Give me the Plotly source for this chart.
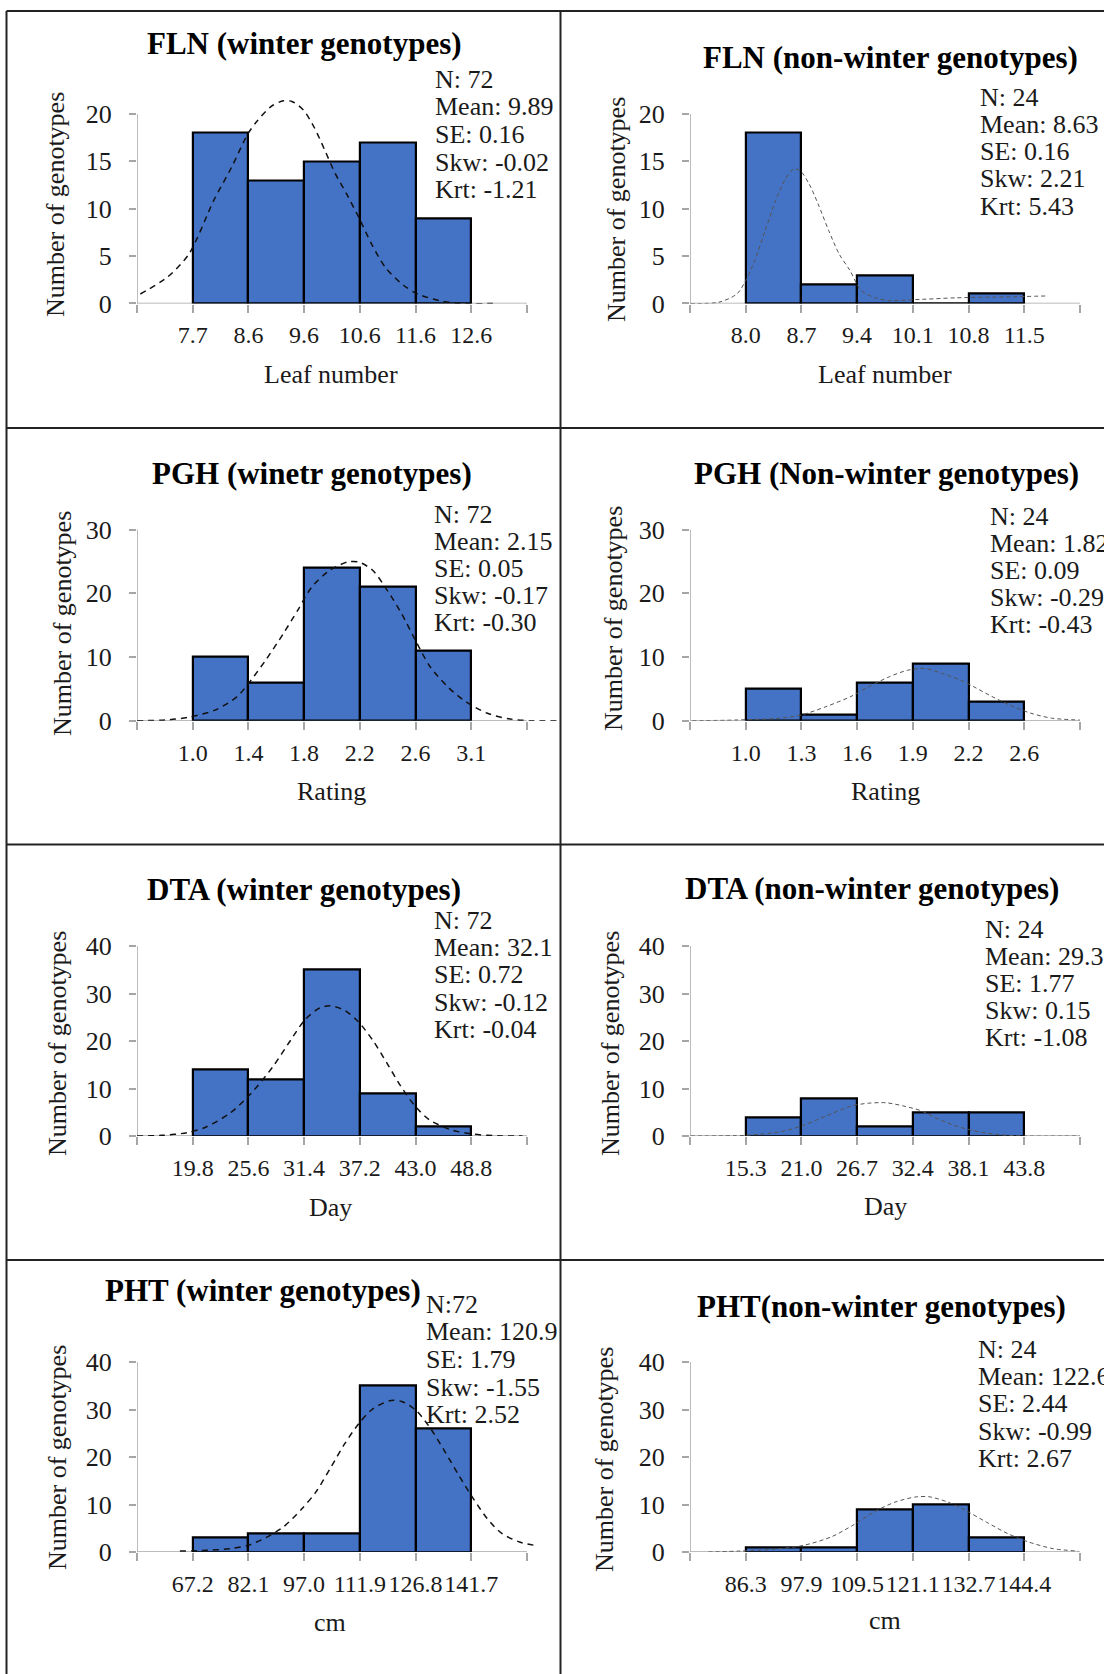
import plotly.graph_objects as go

# ---------------- data ----------------
titles = ["FLN (winter genotypes)", "FLN (non-winter genotypes)",
          "PGH (winetr genotypes)", "PGH (Non-winter genotypes)",
          "DTA (winter genotypes)", "DTA (non-winter genotypes)",
          "PHT (winter genotypes)", "PHT(non-winter genotypes)"]
x_titles = ["Leaf number", "Leaf number", "Rating", "Rating", "Day", "Day", "cm", "cm"]
y_title = "Number of genotypes"

bin_labels_fln_w = ["7.7", "8.6", "9.6", "10.6", "11.6", "12.6"]
bin_labels_fln_nw = ["8.0", "8.7", "9.4", "10.1", "10.8", "11.5"]
bin_labels_pgh_w = ["1.0", "1.4", "1.8", "2.2", "2.6", "3.1"]
bin_labels_pgh_nw = ["1.0", "1.3", "1.6", "1.9", "2.2", "2.6"]
bin_labels_dta_w = ["19.8", "25.6", "31.4", "37.2", "43.0", "48.8"]
bin_labels_dta_nw = ["15.3", "21.0", "26.7", "32.4", "38.1", "43.8"]
bin_labels_pht_w = ["67.2", "82.1", "97.0", "111.9", "126.8", "141.7"]
bin_labels_pht_nw = ["86.3", "97.9", "109.5", "121.1", "132.7", "144.4"]

counts_fln_w = [18, 13, 15, 17, 9]
counts_fln_nw = [18, 2, 3, 0, 1]
counts_pgh_w = [10, 6, 24, 21, 11]
counts_pgh_nw = [5, 1, 6, 9, 3]
counts_dta_w = [14, 12, 35, 9, 2]
counts_dta_nw = [4, 8, 2, 5, 5]
counts_pht_w = [3, 4, 4, 35, 26]
counts_pht_nw = [1, 1, 9, 10, 3]

stats_fln_w = ["N: 72", "Mean: 9.89", "SE: 0.16", "Skw: -0.02", "Krt: -1.21"]
stats_fln_nw = ["N: 24", "Mean: 8.63", "SE: 0.16", "Skw: 2.21", "Krt: 5.43"]
stats_pgh_w = ["N: 72", "Mean: 2.15", "SE: 0.05", "Skw: -0.17", "Krt: -0.30"]
stats_pgh_nw = ["N: 24", "Mean: 1.82", "SE: 0.09", "Skw: -0.29", "Krt: -0.43"]
stats_dta_w = ["N: 72", "Mean: 32.1", "SE: 0.72", "Skw: -0.12", "Krt: -0.04"]
stats_dta_nw = ["N: 24", "Mean: 29.3", "SE: 1.77", "Skw: 0.15", "Krt: -1.08"]
stats_pht_w = ["N:72", "Mean: 120.9", "SE: 1.79", "Skw: -1.55", "Krt: 2.52"]
stats_pht_nw = ["N: 24", "Mean: 122.6", "SE: 2.44", "Skw: -0.99", "Krt: 2.67"]

# fitted normal curves (x in bin-slot units, y in counts)
curve_x_fln_w = [0.06, 0.55, 0.93, 1.38, 1.70, 1.99, 2.15, 2.41, 2.63, 2.79, 2.99, 3.18,
                 3.37, 3.56, 3.76, 3.98, 4.21, 4.46, 4.79, 5.04, 5.43, 5.81, 6.39]
curve_y_fln_w = [1.0, 2.8, 5.2, 10.9, 14.4, 17.9, 19.2, 20.8, 21.4, 21.3, 20.4, 18.6,
                 16.2, 13.7, 11.6, 9.1, 6.3, 3.8, 1.9, 1.0, 0.3, 0.0, 0.0]
curve_x_fln_nw = [0.01, 0.52, 0.84, 1.00, 1.16, 1.35, 1.54, 1.70, 1.86, 1.98, 2.14,
                  2.30, 2.49, 2.68, 2.87, 3.07, 3.32, 3.57, 4.02, 4.78, 5.73, 6.43]
curve_y_fln_nw = [0.0, 0.14, 1.0, 2.4, 4.5, 7.7, 10.9, 13.0, 14.2, 14.0, 12.6,
                  10.5, 7.7, 5.2, 3.5, 1.4, 0.6, 0.3, 0.4, 0.6, 0.7, 0.8]
curve_x_pgh_w = [0.0, 0.51, 0.96, 1.41, 1.80, 2.05, 2.31, 2.63, 2.89, 3.14, 3.46, 3.78,
                 3.98, 4.23, 4.49, 4.75, 5.0, 5.26, 5.58, 5.90, 6.28, 6.67, 7.05, 7.56]
curve_y_pgh_w = [0.0, 0.1, 0.6, 1.7, 3.8, 6.4, 9.5, 13.7, 17.4, 21.0, 23.6, 24.9,
                 24.9, 23.6, 20.5, 16.8, 12.6, 8.5, 5.3, 3.0, 1.2, 0.3, 0.0, 0.0]
curve_x_pgh_nw = [0.04, 0.80, 1.62, 2.0, 2.44, 2.89, 3.20, 3.58, 3.90, 4.22, 4.53,
                  4.85, 5.10, 5.42, 5.73, 6.11, 6.49, 7.0]
curve_y_pgh_nw = [0.0, 0.1, 0.4, 0.9, 2.2, 3.8, 5.3, 6.9, 7.9, 8.2, 7.4,
                  6.4, 5.3, 3.8, 2.5, 1.2, 0.4, 0.1]
curve_x_dta_w = [0.0, 0.45, 0.90, 1.22, 1.67, 2.05, 2.44, 2.76, 3.01, 3.27, 3.46,
                 3.72, 3.97, 4.23, 4.49, 4.74, 5.0, 5.25, 5.64, 6.03, 6.54, 6.92]
curve_y_dta_w = [0.0, 0.14, 0.7, 1.8, 4.8, 9.0, 14.6, 20.2, 24.4, 26.9, 27.4,
                 26.5, 24.1, 20.2, 15.3, 10.4, 6.2, 3.4, 1.3, 0.4, 0.0, 0.0]
curve_x_dta_nw = [0.01, 0.99, 1.62, 2.0, 2.44, 2.89, 3.20, 3.52, 3.84, 4.15, 4.47,
                  4.78, 5.10, 5.48, 5.99, 7.0]
curve_y_dta_nw = [0.0, 0.14, 0.9, 2.1, 4.2, 6.3, 6.9, 7.0, 6.3, 5.3, 3.5,
                  2.1, 1.1, 0.35, 0.0, 0.0]
curve_x_pht_w = [0.77, 1.16, 1.67, 1.99, 2.31, 2.63, 2.96, 3.21, 3.47, 3.73, 3.98, 4.24,
                 4.56, 4.75, 5.01, 5.27, 5.53, 5.78, 6.04, 6.29, 6.55, 6.87, 7.19]
curve_y_pht_w = [0.2, 0.3, 0.7, 1.4, 3.0, 5.3, 9.1, 12.6, 17.6, 22.8, 27.0, 30.2,
                 31.9, 31.7, 29.8, 26.0, 21.1, 16.1, 11.2, 7.0, 3.9, 2.1, 1.3]
curve_x_pht_nw = [0.33, 0.90, 1.53, 2.04, 2.54, 2.92, 3.30, 3.68, 4.06, 4.31, 4.63,
                  4.94, 5.32, 5.70, 6.08, 6.52, 6.97]
curve_y_pht_nw = [0.0, 0.2, 0.6, 1.4, 3.2, 5.6, 8.4, 10.5, 11.6, 11.6, 10.5,
                  8.8, 6.3, 3.9, 2.1, 0.7, 0.2]

y_max = [20, 20, 30, 30, 40, 40, 40, 40]
y_step = [5, 5, 10, 10, 10, 10, 10, 10]

bin_labels = [bin_labels_fln_w, bin_labels_fln_nw, bin_labels_pgh_w, bin_labels_pgh_nw,
              bin_labels_dta_w, bin_labels_dta_nw, bin_labels_pht_w, bin_labels_pht_nw]
counts = [counts_fln_w, counts_fln_nw, counts_pgh_w, counts_pgh_nw,
          counts_dta_w, counts_dta_nw, counts_pht_w, counts_pht_nw]
stats = [stats_fln_w, stats_fln_nw, stats_pgh_w, stats_pgh_nw,
         stats_dta_w, stats_dta_nw, stats_pht_w, stats_pht_nw]
curves_x = [curve_x_fln_w, curve_x_fln_nw, curve_x_pgh_w, curve_x_pgh_nw,
            curve_x_dta_w, curve_x_dta_nw, curve_x_pht_w, curve_x_pht_nw]
curves_y = [curve_y_fln_w, curve_y_fln_nw, curve_y_pgh_w, curve_y_pgh_nw,
            curve_y_dta_w, curve_y_dta_nw, curve_y_pht_w, curve_y_pht_nw]

# ---------------- layout (pixel positions) ----------------
W, H = 1104, 1674
FONT = "Liberation Serif, Times New Roman, serif"
TXT = "#1a1a1a"
AXC = "#a6a6a6"
SLOT = 55.7
col_x0 = [137, 690]
col_xr = [7.6, 7.2]
Y_EXT = 1.15
row_y = [(303.5, 114), (720.7, 529.5), (1136, 946), (1552, 1362)]

pos = [
    dict(title=(304, 44), st=(433, 79, 27.7), xt=(331, 375), yt=(56, 205)),
    dict(title=(890, 57), st=(978, 97, 27.3), xt=(885, 375), yt=(617, 210)),
    dict(title=(312, 473), st=(432, 514, 27.2), xt=(331, 791), yt=(63, 623)),
    dict(title=(886, 473), st=(988, 516, 27.2), xt=(885, 791), yt=(613, 619)),
    dict(title=(304, 889), st=(432, 920, 27.4), xt=(330, 1207), yt=(57, 1044)),
    dict(title=(872, 888), st=(983, 929, 27.2), xt=(885, 1206), yt=(610, 1044)),
    dict(title=(263, 1290), st=(424, 1304, 27.7), xt=(330, 1622), yt=(57, 1458)),
    dict(title=(881, 1306), st=(976, 1349, 27.4), xt=(885, 1620), yt=(604, 1460)),
]


def px(x):
    return x / W


def py(y):
    return 1 - y / H


fig = go.Figure()
annotations = []
shapes = []

for i in range(8):
    n = "" if i == 0 else str(i + 1)
    col = i % 2
    row = i // 2
    xa, ya = "x" + n, "y" + n
    left = col == 0

    bar_x = [k + 1.5 for k in range(len(counts[i]))]
    fig.add_trace(go.Bar(
        x=bar_x, y=counts[i], width=1.0, xaxis=xa, yaxis=ya,
        marker=dict(color="#4472C4", line=dict(color="#000000", width=2.2)),
        showlegend=False, hoverinfo="skip"))
    fig.add_trace(go.Scatter(
        x=curves_x[i], y=curves_y[i], mode="lines", xaxis=xa, yaxis=ya,
        line=dict(color="#111111" if left else "#555555",
                  width=1.5 if left else 1.0,
                  dash="6px,5px" if left else "4px,3px",
                  shape="spline", smoothing=0.8),
        showlegend=False, hoverinfo="skip"))

    x0 = col_x0[col]
    xr = col_xr[col]
    yb, yt = row_y[row]
    ytop = yb - Y_EXT * (yb - yt)
    fig.layout["xaxis" + n] = dict(
        domain=[px(x0), px(x0 + xr * SLOT)], range=[0, xr], anchor=ya,
        tickmode="array", tickvals=list(range(8)),
        ticktext=[""] + bin_labels[i] + [""], tickangle=0,
        ticks="outside", ticklen=8, tickwidth=1.5, tickcolor=AXC,
        showline=False, showgrid=False, zeroline=False, automargin=False,
        tickfont=dict(family=FONT, size=24, color=TXT),
        ticklabelstandoff=2, fixedrange=True)
    fig.layout["yaxis" + n] = dict(
        domain=[py(yb), py(ytop)], range=[0, y_max[i] * Y_EXT], anchor=xa,
        tickmode="array", tickvals=list(range(0, y_max[i] + 1, y_step[i])),
        ticks="outside", ticklen=7, tickwidth=1.5, tickcolor=AXC,
        showline=False, showgrid=False, zeroline=False, automargin=False,
        tickfont=dict(family=FONT, size=26, color=TXT),
        ticklabelstandoff=12, fixedrange=True)
    # axis lines (x ends at the last tick, y ends at the top tick)
    shapes.append(dict(type="line", xref=xa, yref=ya, x0=0, x1=7, y0=0, y1=0,
                       line=dict(color=AXC, width=1.5), layer="below"))
    shapes.append(dict(type="line", xref=xa, yref=ya, x0=0, x1=0, y0=0, y1=y_max[i],
                       line=dict(color=AXC, width=1.5), layer="below"))

    p = pos[i]
    annotations.append(dict(
        text="<b>" + titles[i] + "</b>", x=px(p["title"][0]), y=py(p["title"][1]),
        xref="paper", yref="paper", xanchor="center", yanchor="middle",
        showarrow=False, font=dict(family=FONT, size=31, color="#000000")))
    sx, sy, step = p["st"]
    for k, line in enumerate(stats[i]):
        annotations.append(dict(
            text=line, x=px(sx), y=py(sy + k * step), xref="paper", yref="paper",
            xanchor="left", yanchor="middle", showarrow=False,
            font=dict(family=FONT, size=26, color=TXT)))
    annotations.append(dict(
        text=x_titles[i], x=px(p["xt"][0]), y=py(p["xt"][1]),
        xref="paper", yref="paper", xanchor="center", yanchor="middle",
        showarrow=False, font=dict(family=FONT, size=26, color=TXT)))
    annotations.append(dict(
        text=y_title, x=px(p["yt"][0]), y=py(p["yt"][1]), textangle=-90,
        xref="paper", yref="paper", xanchor="center", yanchor="middle",
        showarrow=False, font=dict(family=FONT, size=26, color=TXT)))

# panel frame lines
FR = dict(color="#222222", width=2)
for yy in [11, 428, 844.5, 1260]:
    shapes.append(dict(type="line", xref="paper", yref="paper",
                       x0=px(6.5), x1=1, y0=py(yy), y1=py(yy), line=FR))
for xx in [6.5, 560.5]:
    shapes.append(dict(type="line", xref="paper", yref="paper",
                       x0=px(xx), x1=px(xx), y0=py(11), y1=0, line=FR))

fig.update_layout(
    width=W, height=H, margin=dict(l=0, r=0, t=0, b=0, autoexpand=False),
    paper_bgcolor="white", plot_bgcolor="rgba(0,0,0,0)",
    bargap=0, annotations=annotations, shapes=shapes, showlegend=False,
    font=dict(family=FONT, size=26, color=TXT))

fig.write_html("out.html")
